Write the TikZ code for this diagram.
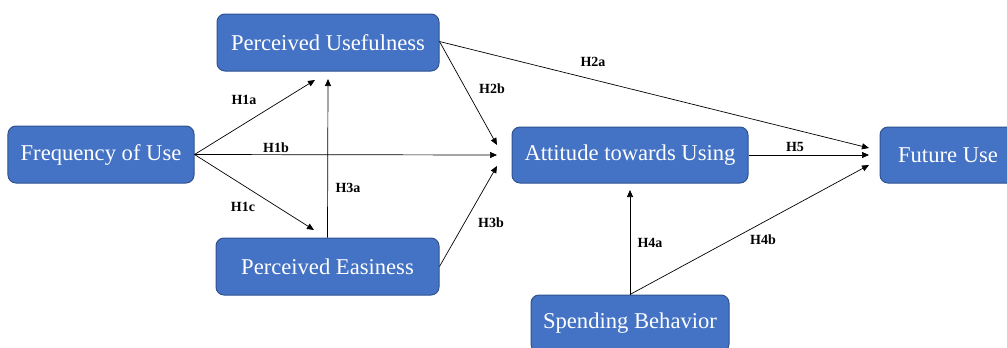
\documentclass[tikz,border=0pt]{standalone}
\usepackage{fontspec}
\setmainfont{Liberation Serif}
\usetikzlibrary{arrows.meta}
\definecolor{boxfill}{HTML}{4472C4}
\definecolor{boxline}{HTML}{2F528F}
\begin{document}
\begin{tikzpicture}[x=1bp,y=-1bp,
  box/.style={draw=boxline, fill=boxfill, line width=1bp, rounded corners=8bp,
    text=white, inner sep=0pt, font=\fontsize{22.6bp}{26bp}\selectfont},
  link/.style={draw=black, line width=0.7bp, -{Triangle[length=7bp,width=6bp]}},
  hyp/.style={font=\bfseries\fontsize{14bp}{16bp}\selectfont, inner sep=0pt}]
\useasboundingbox (0,0) rectangle (1007,347);
\node[box, minimum width=222bp, minimum height=57bp] (pu) at (328,42.5) {Perceived Usefulness};
\node[box, minimum width=186bp, minimum height=57bp] (fu) at (101,154.5) {Frequency of Use};
\node[box, minimum width=223bp, minimum height=57bp] (pe) at (327.5,266.5) {Perceived Easiness};
\node[box, minimum width=236bp, minimum height=56bp] (at) at (630,155) {Attitude towards Using};
\node[box, minimum width=136bp, minimum height=56bp] (fut) at (948,155) {Future Use};
\node[box, minimum width=198bp, minimum height=57bp] (sb) at (630,323.5) {Spending Behavior};
% endpoints
\coordinate (puIn1) at (315,80);
\coordinate (puIn2) at (328,79);
\coordinate (peIn) at (314,230);
\coordinate (atInA) at (497,145);
\coordinate (atInB) at (497,155);
\coordinate (atInC) at (497,166);
\coordinate (atInD) at (630,190);
\coordinate (futInA) at (869,148);
\coordinate (futInB) at (869,155);
\coordinate (futInC) at (869,165);
% connectors
\draw[link] (fu.east) -- (puIn1);
\draw[link] (fu.east) -- (atInB);
\draw[link] (fu.east) -- (peIn);
\draw[link] (pe.north) -- (puIn2);
\draw[link] ([yshift=1bp]pu.east) -- (atInA);
\draw[link] ([yshift=1bp]pu.east) -- (futInA);
\draw[link] (pe.east) -- (atInC);
\draw[link] (at.east) -- (futInB);
\draw[link] (sb.north) -- (atInD);
\draw[link] (sb.north) -- (futInC);
% labels
\node[hyp] (l1a) at (244,100) {H1a};
\node[hyp] (l1b) at (276,148) {H1b};
\node[hyp] (l1c) at (243,207) {H1c};
\node[hyp] (l3a) at (348,188) {H3a};
\node[hyp] (l2b) at (492,89) {H2b};
\node[hyp] (l2a) at (593,62) {H2a};
\node[hyp] (l3b) at (491,223) {H3b};
\node[hyp] (l5) at (795,147) {H5};
\node[hyp] (l4a) at (650,243) {H4a};
\node[hyp] (l4b) at (763,240) {H4b};
\end{tikzpicture}
\end{document}
